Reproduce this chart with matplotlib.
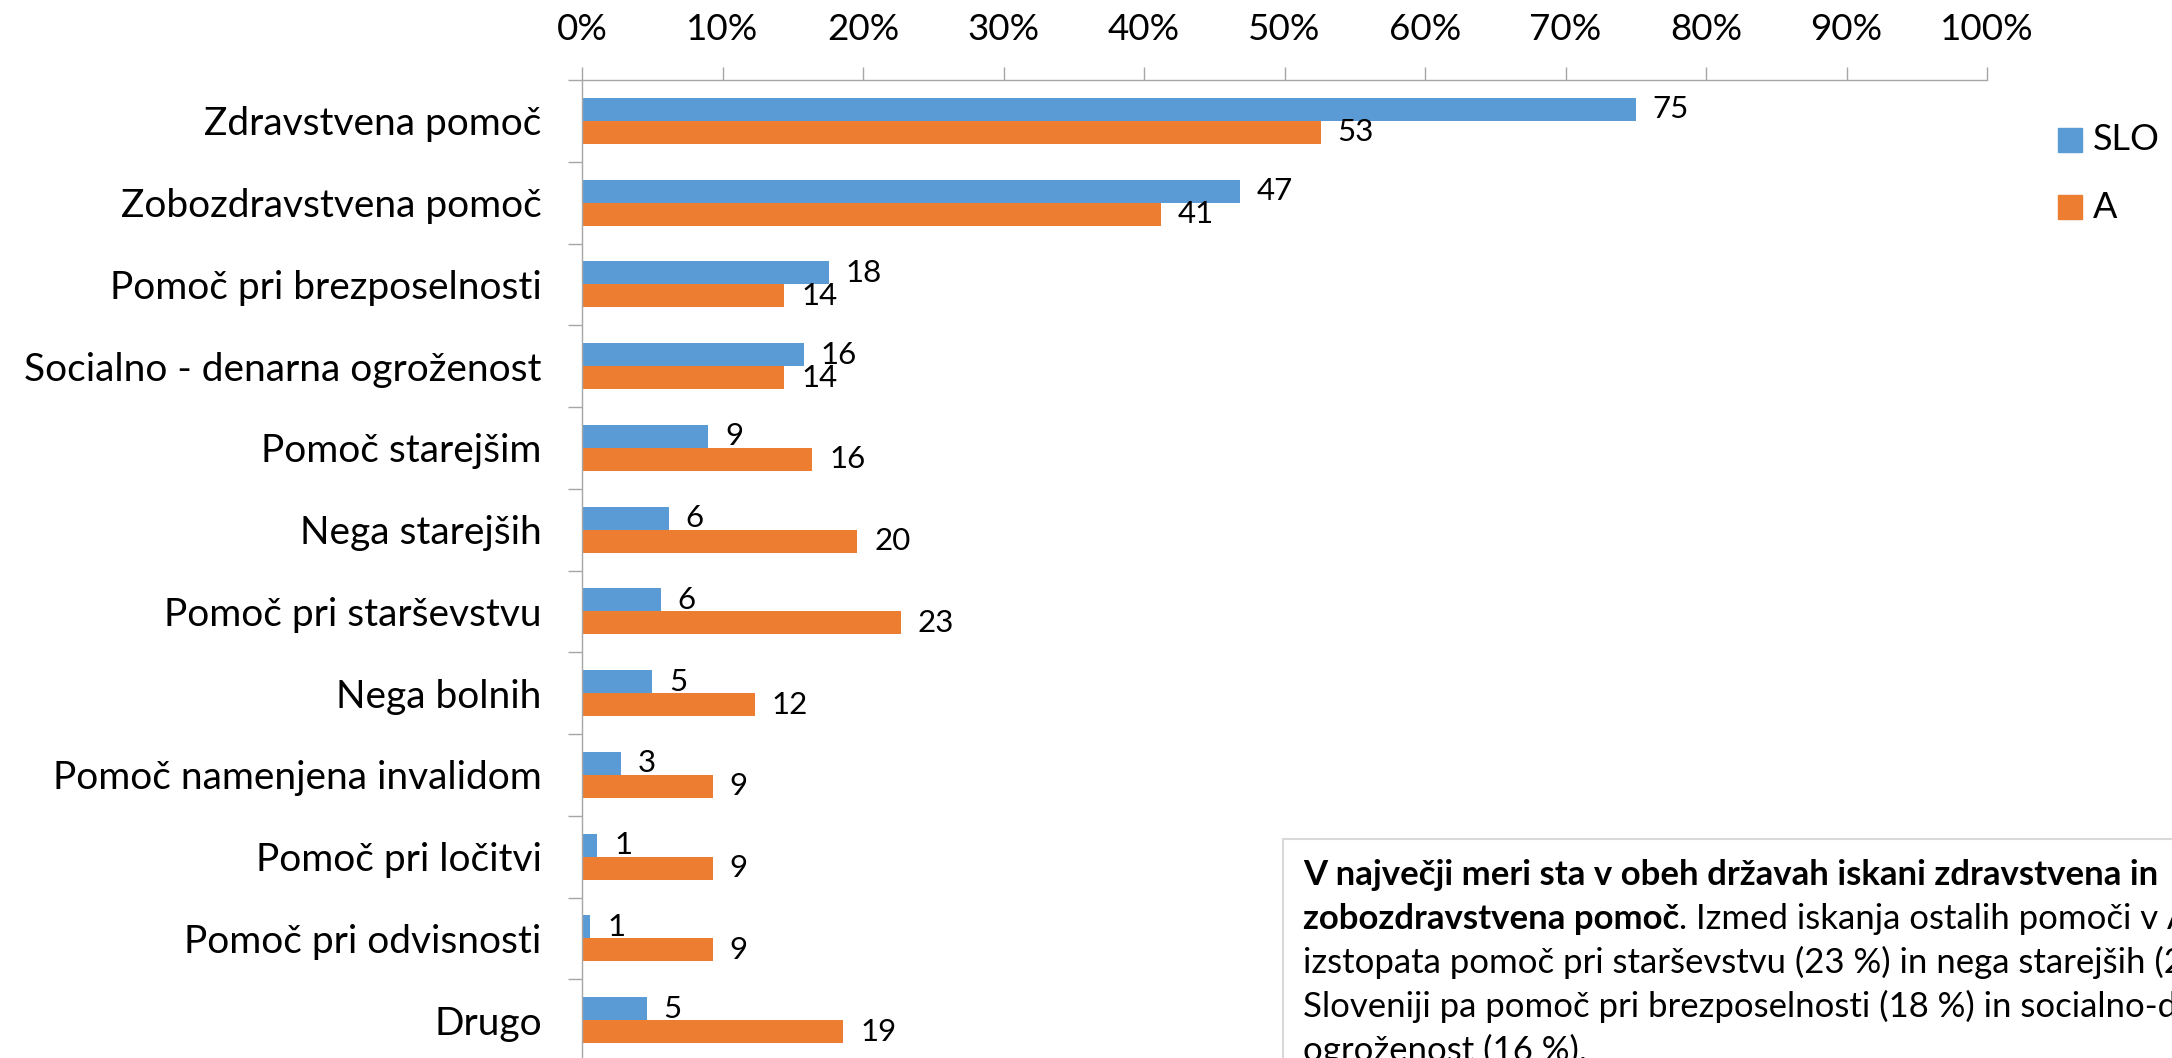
import numpy as np
import matplotlib.pyplot as plt
from matplotlib.patches import Rectangle

plt.rcParams['font.family'] = ['Lato', 'DejaVu Sans']

categories = ["Zdravstvena pomoč", "Zobozdravstvena pomoč", "Pomoč pri brezposelnosti",
              "Socialno - denarna ogroženost", "Pomoč starejšim", "Nega starejših",
              "Pomoč pri starševstvu", "Nega bolnih", "Pomoč namenjena invalidom",
              "Pomoč pri ločitvi", "Pomoč pri odvisnosti", "Drugo"]
slo = [75.0, 46.8, 17.6, 15.8, 9.0, 6.2, 5.6, 5.0, 2.8, 1.1, 0.6, 4.6]
avt = [52.6, 41.2, 14.4, 14.4, 16.4, 19.6, 22.7, 12.3, 9.3, 9.3, 9.3, 18.6]
series_names = ["SLO", "A"]
xticks = [0, 10, 20, 30, 40, 50, 60, 70, 80, 90, 100]

blue = '#5B9BD5'
orange = '#ED7D31'
gray = '#A6A6A6'

W, H = 2172, 1058
fig = plt.figure(figsize=(W / 100, H / 100), dpi=100)
ax = fig.add_axes([582 / W, 1 - 1061 / H, 1405 / W, 981 / H])

y = np.arange(len(categories))
bh = 0.28
ax.barh(y - bh / 2, slo, height=bh, color=blue, label=series_names[0])
ax.barh(y + bh / 2, avt, height=bh, color=orange, label=series_names[1])

for i in range(len(categories)):
    ax.annotate(f"{slo[i]:.0f}", (slo[i], y[i] - bh / 2), xytext=(12, 0),
                textcoords='offset points', ha='left', va='center', fontsize=22.5)
    ax.annotate(f"{avt[i]:.0f}", (avt[i], y[i] + bh / 2), xytext=(12, 0),
                textcoords='offset points', ha='left', va='center', fontsize=22.5)

ax.set_xlim(0, 100)
ax.set_ylim(len(categories) - 0.5, -0.5)
ax.xaxis.tick_top()
ax.set_xticks(xticks)
ax.set_xticklabels([f"{t}%" for t in xticks], fontsize=26.5)
ax.tick_params(axis='x', direction='out', length=9.5, width=1, color=gray, pad=15)
ax.set_yticks(y)
ax.set_yticklabels(categories, fontsize=28)
ax.tick_params(axis='y', which='major', length=0, pad=29)
ax.set_yticks(np.arange(len(categories) + 1) - 0.5, minor=True)
ax.tick_params(axis='y', which='minor', direction='out', length=10, width=1, color=gray)

for s in ['right', 'bottom']:
    ax.spines[s].set_visible(False)
for s in ['top', 'left']:
    ax.spines[s].set_color(gray)
    ax.spines[s].set_linewidth(1)

# legend
leg_y = [140, 207]
for name, col, yy in zip(series_names, [blue, orange], leg_y):
    fig.patches.append(Rectangle((2058 / W, 1 - (yy + 12) / H), 24 / W, 24 / H,
                                 transform=fig.transFigure, color=col))
    fig.text(2093 / W, 1 - yy / H, name, fontsize=26, va='center', ha='left')

# comment box
fig.patches.append(Rectangle((1283 / W, -0.05), 0.5, 1.05 - 839 / H,
                             transform=fig.transFigure, facecolor='white',
                             edgecolor='#D9D9D9', linewidth=1.5))
tx = 1303 / W
fs = 25
step = 44
fig.text(tx, 1 - 885 / H, "V največji meri sta v obeh državah iskani zdravstvena in",
         fontsize=fs, fontweight='bold', va='baseline')
t1 = fig.text(tx, 1 - (885 + step) / H, "zobozdravstvena pomoč",
              fontsize=fs, fontweight='bold', va='baseline')
renderer = fig.canvas.get_renderer()
x_end = t1.get_window_extent(renderer).x1 / W
fig.text(x_end, 1 - (885 + step) / H, ". Izmed iskanja ostalih pomoči v A",
         fontsize=fs, va='baseline')
rest = ["izstopata pomoč pri starševstvu (23 %) in nega starejših (20 %), v",
        "Sloveniji pa pomoč pri brezposelnosti (18 %) in socialno-denarna",
        "ogroženost (16 %)."]
for k, line in enumerate(rest):
    fig.text(tx, 1 - (885 + step * (k + 2)) / H, line, fontsize=fs, va='baseline')

fig.savefig('out.png', dpi=100)
